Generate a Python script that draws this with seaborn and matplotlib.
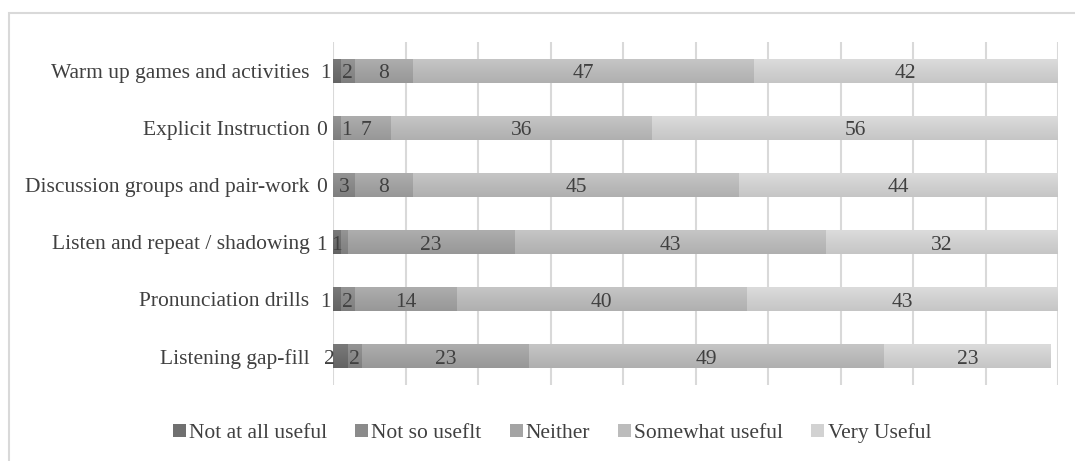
import numpy as np
import pandas as pd
import matplotlib
matplotlib.use("Agg")
import matplotlib.pyplot as plt
from matplotlib.patches import Rectangle, Patch
import seaborn as sns

# Survey results (percent of respondents)
activities = [
    "Warm up games and activities",
    "Explicit Instruction",
    "Discussion groups and pair-work",
    "Listen and repeat / shadowing",
    "Pronunciation drills",
    "Listening gap-fill",
]
responses = ["Not at all useful", "Not so useflt", "Neither", "Somewhat useful", "Very Useful"]
not_at_all = [1, 0, 0, 1, 1, 2]
not_so = [2, 1, 3, 1, 2, 2]
neither = [8, 7, 8, 23, 14, 23]
somewhat = [47, 36, 45, 43, 40, 49]
very = [42, 56, 44, 32, 43, 23]

series = [not_at_all, not_so, neither, somewhat, very]
colors = ["#707070", "#8b8b8b", "#a4a4a4", "#bcbcbc", "#d2d2d2"]

sns.set_theme(style="white")
plt.rcParams["font.family"] = ["Liberation Serif", "DejaVu Serif"]
TEXT = "#404040"
FS = 15.5

fig = plt.figure(figsize=(10.75, 4.61), dpi=100)
ax = fig.add_axes([333 / 1075, 1 - 385 / 461, (1058 - 333) / 1075, (385 - 42) / 461])

df = pd.DataFrame({"activity": activities})
cum = np.cumsum(np.array(series, dtype=float), axis=0)

# Stacked bars: draw cumulative totals from the longest to the shortest
layer_patches = []
for k in range(len(series) - 1, -1, -1):
    df["value"] = cum[k]
    n_before = len(ax.patches)
    sns.barplot(data=df, x="value", y="activity", orient="h", color=colors[k],
                width=0.42, saturation=1, ax=ax, zorder=2)
    layer_patches.append((k, ax.patches[n_before:]))

# Vertical shading on each bar: lighter at the top, darker at the bottom
def shade(hex_color, amt):
    rgb = np.array(matplotlib.colors.to_rgb(hex_color))
    return np.clip(rgb + amt, 0, 1)

order = 0
for k, patches in layer_patches:
    top = shade(colors[k], 0.04)
    bot = shade(colors[k], -0.05)
    t = np.linspace(0, 1, 64)[:, None]
    grad = (1 - t) * top + t * bot
    grad = grad[:, None, :]
    for p in patches:
        x0, y0 = p.get_x(), p.get_y()
        w, h = p.get_width(), p.get_height()
        if w <= 0:
            continue
        im = ax.imshow(grad, extent=(x0, x0 + w, y0 + h, y0), aspect="auto",
                       interpolation="bilinear", zorder=3 + order * 0.01)
        im.set_clip_path(p)
        p.set_alpha(0)
    order += 1

ax.set_xlim(0, 100)
ax.set_ylim(len(activities) - 0.5, -0.5)
ax.set_xticks(np.arange(0, 101, 10))
ax.set_xticklabels([])
ax.grid(axis="x", color="#d9d9d9", linewidth=1.5, zorder=0)
ax.grid(axis="y", visible=False)
for s in ax.spines.values():
    s.set_visible(False)
ax.set_xlabel("")
ax.set_ylabel("")
ax.tick_params(axis="y", length=0, pad=17, labelsize=FS, labelcolor=TEXT)
ax.tick_params(axis="x", length=0)

# Value labels; first-slice labels sit left of the axis, and labels of
# the thinnest slices are nudged sideways so they do not collide
def label_shift(k, i):
    if k == 0:
        return -15 if i == 3 else -11
    return {(1, 1): 10, (1, 3): -7}.get((k, i), 0)

starts = np.vstack([np.zeros(len(activities)), cum[:-1]])
for k, vals in enumerate(series):
    for i, v in enumerate(vals):
        center = starts[k][i] + v / 2
        ax.annotate(f"{v}", (center, i), xytext=(label_shift(k, i), -3),
                    textcoords="offset pixels", ha="center", va="center",
                    fontsize=FS, color=TEXT, zorder=10)

# Legend
handles = [Patch(facecolor=c, edgecolor="none") for c in colors]
fig.legend(handles, responses, loc="center", bbox_to_anchor=(552 / 1075, 1 - 433 / 461),
           ncol=5, frameon=False, fontsize=FS, handlelength=0.6, handleheight=0.6,
           handletextpad=0.15, columnspacing=1.3, labelcolor=TEXT)

# Chart area border
fig.patches.append(Rectangle((9 / 1075, -0.2), 1.2, 1.2 - 13 / 461, transform=fig.transFigure,
                             fill=False, edgecolor="#d9d9d9", linewidth=1.5, zorder=0))

fig.savefig("out.png", dpi=100, facecolor="white")
